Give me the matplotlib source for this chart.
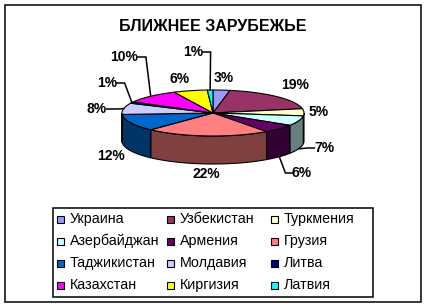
import numpy as np
import matplotlib
matplotlib.use("Agg")
import matplotlib.pyplot as plt
from matplotlib.patches import Polygon, Rectangle
from matplotlib.colors import to_rgb

plt.rcParams['font.family'] = ['Liberation Sans', 'DejaVu Sans']

# данные
title = 'БЛИЖНЕЕ ЗАРУБЕЖЬЕ'
countries = ['Украина', 'Узбекистан', 'Туркмения', 'Азербайджан', 'Армения', 'Грузия',
             'Таджикистан', 'Молдавия', 'Литва', 'Казахстан', 'Киргизия', 'Латвия']
shares = [3, 19, 5, 7, 6, 22, 12, 8, 1, 10, 6, 1]
colors = ['#9999FF', '#993366', '#FFFFCC', '#CCFFFF', '#660066', '#FF8080',
          '#0066CC', '#CCCCFF', '#000080', '#FF00FF', '#FFFF00', '#00FFFF']

# геометрия (пиксели)
W, H = 428, 307
cx, cy, rx, ry, depth = 213, 113, 91, 23, 28

# подписи: позиция центра текста, сторона выноски (None - без выноски), куда ведет выноска
label_pos = [(224, 78), (295, 85), (319, 112), (324, 148), (302, 173), (206, 174),
             (111, 156), (97, 109), (107, 83), (124, 57), (180, 79), (193, 52)]
leader = [None, None, None, ('l', 'side'), ('l', 'side'), None,
          None, ('r', 'top'), ('r', 'top'), ('r', 'top'), None, ('r', 'top')]

fig = plt.figure(figsize=(W / 100, H / 100), dpi=100)
ax = fig.add_axes([0, 0, 1, 1])
ax.set_xlim(0, W)
ax.set_ylim(H, 0)
ax.axis('off')

def pt(t, dy=0):
    r = np.radians(t)
    return cx + rx * np.cos(r), cy - ry * np.sin(r) + dy

cum = np.concatenate([[0], np.cumsum(shares)]) / sum(shares)
starts = 90 - 360 * cum[:-1]
ends = 90 - 360 * cum[1:]

# боковые стенки (видна нижняя половина)
for a0, a1, c in zip(starts, ends, colors):
    hi, lo = min(a0, 0), max(a1, -180)
    if hi <= lo:
        continue
    t = np.linspace(hi, lo, 60)
    top = [pt(v) for v in t]
    bot = [pt(v, depth) for v in t[::-1]]
    side = tuple(0.5 * np.array(to_rgb(c)))
    ax.add_patch(Polygon(top + bot, closed=True, fc=side, ec='black', lw=0.8))

# верх
for a0, a1, c in zip(starts, ends, colors):
    t = np.linspace(a0, a1, max(3, int(abs(a0 - a1))))
    ax.add_patch(Polygon([(cx, cy)] + [pt(v) for v in t], closed=True,
                         fc=c, ec='black', lw=0.8, joinstyle='round'))

# подписи процентов
for i, s in enumerate(shares):
    txt = f'{s}%'
    x, y = label_pos[i]
    ax.text(x, y, txt, ha='center', va='center', fontsize=10, fontweight='bold')
    if leader[i] is None:
        continue
    side, where = leader[i]
    hw = 4.3 * len(txt) + 1
    mid = (starts[i] + ends[i]) / 2
    ax_, ay_ = pt(mid, depth if where == 'side' else 0)
    if side == 'r':
        p0 = (x + hw, y)
        p1 = (x + hw + 8, y)
    else:
        p0 = (x - hw, y)
        p1 = (x - hw - 7, y)
    ax.plot([p0[0], p1[0], ax_], [p0[1], p1[1], ay_], color='black', lw=1.1,
            solid_joinstyle='miter')

ax.text(213, 26.5, title, ha='center', va='center', fontsize=11.5, fontweight='bold')

# легенда
ax.add_patch(Rectangle((53, 208), 320, 89, fill=False, ec='black', lw=1.1))
col_x = [57, 167, 271]
row_y = [219, 241, 263, 285]
for i, (name, c) in enumerate(zip(countries, colors)):
    x = col_x[i % 3]
    y = row_y[i // 3]
    ax.add_patch(Rectangle((x, y - 3.5), 7, 7, fc=c, ec='black', lw=0.8))
    ax.text(x + 12.5, y, name, ha='left', va='center', fontsize=10.3)

# рамка
ax.add_patch(Rectangle((5, 5), 416.5, 296.5, fill=False, ec='black', lw=1.1))

fig.savefig('out.png', dpi=100)
